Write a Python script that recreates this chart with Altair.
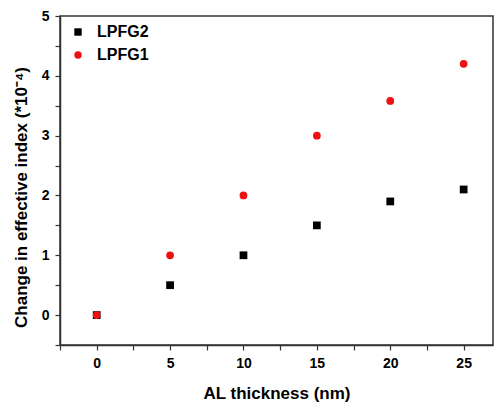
import altair as alt
import pandas as pd

thickness = [0, 5, 10, 15, 20, 25]
lpfg2 = [0, 0.5, 1.0, 1.5, 1.9, 2.1]
lpfg1 = [0, 1.0, 2.0, 3.0, 3.58, 4.2]

df = pd.DataFrame({
    "x": thickness * 2,
    "y": lpfg2 + lpfg1,
    "series": ["LPFG2"] * len(thickness) + ["LPFG1"] * len(thickness),
    "order": [0] * len(thickness) + [1] * len(thickness),
})

font = "Liberation Sans"

chart = alt.Chart(df).mark_point(filled=True, opacity=1, size=60).encode(
    x=alt.X("x:Q", scale=alt.Scale(domain=[-2.5, 27], nice=False, zero=False),
            axis=alt.Axis(title="AL thickness (nm)",
                          values=[-2.5, 0, 2.5, 5, 7.5, 10, 12.5, 15, 17.5, 20, 22.5, 25],
                          labelExpr="datum.value % 5 === 0 ? format(datum.value, 'd') : ''",
                          grid=False, tickSize=5, labelPadding=6, titlePadding=15)),
    y=alt.Y("y:Q", scale=alt.Scale(domain=[-0.5, 5], nice=False, zero=False),
            axis=alt.Axis(title="Change in effective index (*10⁻⁴)",
                          values=[-0.5, 0, 0.5, 1, 1.5, 2, 2.5, 3, 3.5, 4, 4.5, 5],
                          labelExpr="datum.value % 1 === 0 ? format(datum.value, 'd') : ''",
                          grid=False, tickSize=5, labelPadding=6, titlePadding=11,
                          titleY=181)),
    color=alt.Color("series:N", scale=alt.Scale(domain=["LPFG2", "LPFG1"], range=["#000000", "#ee1111"]),
                    legend=alt.Legend(title=None, orient="none", legendX=10, legendY=8,
                                      labelFont=font, labelFontWeight="bold", labelFontSize=16,
                                      symbolSize=55, rowPadding=7, labelOffset=11)),
    shape=alt.Shape("series:N", scale=alt.Scale(domain=["LPFG2", "LPFG1"], range=["square", "circle"]),
                    legend=None),
    order="order:Q",
).properties(
    width=433, height=329,
    autosize=alt.AutoSizeParams(type="none"),
    padding={"left": 60, "top": 16, "right": 1, "bottom": 58},
).configure_view(
    stroke="#333333", strokeWidth=1.5
).configure_axis(
    domainColor="#333333", domainWidth=1.5, tickColor="#333333", tickWidth=1.2,
    labelFont=font, labelFontWeight="bold", labelFontSize=14, labelColor="#000000",
    titleFont=font, titleFontWeight="bold", titleFontSize=17, titleColor="#000000",
)

chart.save("out.html", embed_options={"renderer": "svg", "actions": False})
